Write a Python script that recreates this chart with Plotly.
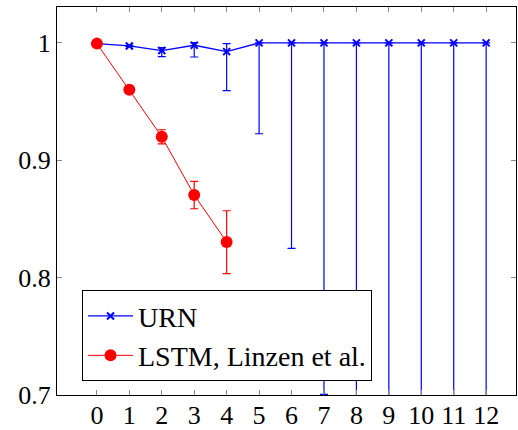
import plotly.graph_objects as go

x_vals = list(range(13))
urn_y = [0.9994, 0.9974, 0.9935, 0.998, 0.9926, 1.0, 1.0, 1.0, 1.0, 1.0, 1.0, 1.0, 1.0]
urn_err_plus = [0.0, 0.0005, 0.0025, 0.0023, 0.0068, 0, 0, 0, 0, 0, 0, 0, 0]
urn_err_minus = [0.0, 0.0005, 0.0051, 0.010, 0.0332, 0.0774, 0.175, 0.2995, 0.5, 0.5, 0.5, 0.5, 0.5]

lstm_x = [0, 1, 2, 3, 4]
lstm_y = [0.9994, 0.960, 0.920, 0.8704, 0.8304]
lstm_err_plus = [0.0, 0.0, 0.006, 0.0116, 0.0266]
lstm_err_minus = [0.0, 0.0, 0.006, 0.0117, 0.027]

tick_x = list(range(13))
tick_y = [0.7, 0.8, 0.9, 1.0]
tick_y_text = ["0.7", "0.8", "0.9", "1"]

font_family = "Liberation Serif, DejaVu Serif, serif"

fig = go.Figure()
fig.add_trace(go.Scatter(
    x=x_vals, y=urn_y, name="URN", mode="lines+markers",
    line=dict(color="#0000ff", width=1.3),
    marker=dict(symbol="x-thin", size=7, line=dict(color="#0000ff", width=2)),
    error_y=dict(type="data", symmetric=False, array=urn_err_plus, arrayminus=urn_err_minus,
                 color="#0000ff", thickness=1.2, width=4),
))
fig.add_trace(go.Scatter(
    x=lstm_x, y=lstm_y, name="LSTM, Linzen et al.", mode="lines+markers",
    line=dict(color="#ff0000", width=1),
    marker=dict(symbol="circle", size=12, color="#ff0000"),
    error_y=dict(type="data", symmetric=False, array=lstm_err_plus, arrayminus=lstm_err_minus,
                 color="#ff0000", thickness=1.2, width=4),
))

fig.update_layout(
    width=518, height=430,
    margin=dict(l=57, r=2, t=7, b=35, autoexpand=False),
    paper_bgcolor="white", plot_bgcolor="white",
    font=dict(family=font_family, size=26, color="black"),
    showlegend=True,
    legend=dict(x=0.0545, y=0.27, xanchor="left", yanchor="top",
                bgcolor="white", bordercolor="black", borderwidth=1,
                font=dict(family=font_family, size=28), tracegroupgap=0,
                itemwidth=45),
    xaxis=dict(range=[-1.23, 12.92], tickvals=tick_x, ticktext=[str(v) for v in tick_x],
               showgrid=False, zeroline=False, showline=True, linecolor="black", linewidth=1,
               mirror="allticks", ticks="inside", ticklen=5, tickcolor="#888888",
               tickfont=dict(size=26), ticklabelstandoff=-3),
    yaxis=dict(range=[0.7, 1.0306], tickvals=tick_y, ticktext=tick_y_text,
               showgrid=False, zeroline=False, showline=True, linecolor="black", linewidth=1,
               mirror="allticks", ticks="inside", ticklen=5, tickcolor="#888888",
               tickfont=dict(size=26)),
)

fig.write_html("out.html", config={"displayModeBar": False},
               post_script="document.body.style.margin='0';document.body.style.padding='0';")
